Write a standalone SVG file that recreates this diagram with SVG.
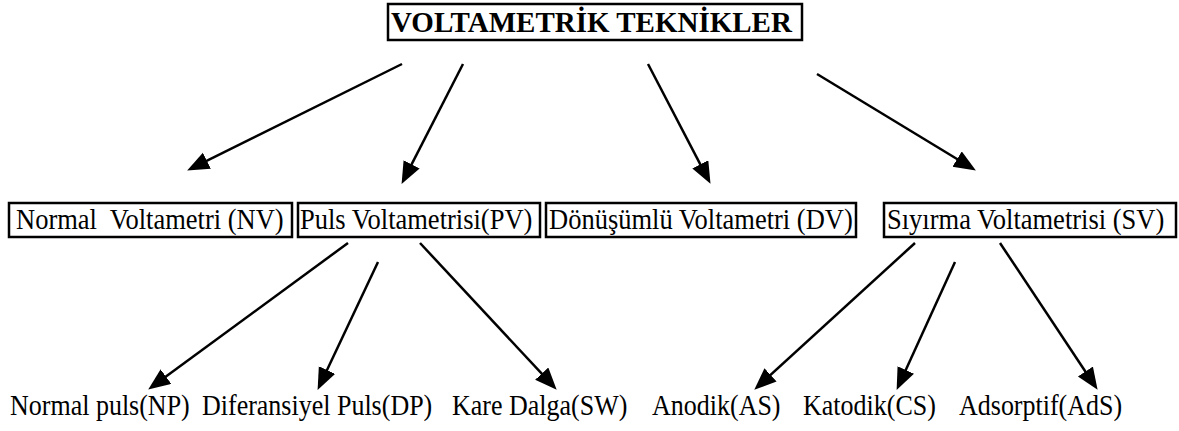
<svg xmlns="http://www.w3.org/2000/svg" width="1179" height="431" viewBox="0 0 1179 431">
<style>
.box{fill:#fff;stroke:#000;stroke-width:2.5}
.t{font-family:"Liberation Serif","Times New Roman",serif;font-size:26.5px;fill:#000;white-space:pre}
.b{font-family:"Liberation Serif","Times New Roman",serif;font-size:26px;fill:#000;white-space:pre}
.title{font-family:"Liberation Serif","Times New Roman",serif;font-size:29px;font-weight:bold;fill:#000}
.c{stroke:#000;stroke-width:2.5;fill:none;marker-end:url(#ah)}
</style>
<defs>
<marker id="ah" markerUnits="userSpaceOnUse" markerWidth="24" markerHeight="20" refX="11" refY="9" orient="auto" viewBox="0 0 24 20">
<path d="M0,0 L22,9 L0,18 z" fill="#000"/>
</marker>
</defs>
<rect width="1179" height="431" fill="#fff"/>
<g id="title">
<rect class="box" x="388" y="4" width="414" height="36"/>
<text class="title" transform="translate(391,32) scale(1,1.04)">VOLTAMETRİK TEKNİKLER</text>
</g>
<g id="nv">
<rect class="box" x="9" y="203" width="283" height="34"/>
<text class="t" transform="translate(16,229) scale(1,1.08)" xml:space="preserve">Normal  Voltametri (NV)</text>
</g>
<g id="pv">
<rect class="box" x="298" y="203" width="242" height="34"/>
<text class="t" transform="translate(300,229) scale(1,1.08)">Puls Voltametrisi(PV)</text>
</g>
<g id="dv">
<rect class="box" x="546" y="203" width="310" height="34"/>
<text class="t" transform="translate(549,229) scale(1,1.08)">Dönüşümlü Voltametri (DV)</text>
</g>
<g id="sv">
<rect class="box" x="884" y="203" width="292" height="34"/>
<text class="t" transform="translate(887,229) scale(1,1.08)">Sıyırma Voltametrisi (SV)</text>
</g>
<g id="np"><text class="b" transform="translate(10,415) scale(1,1.12)">Normal puls(NP)</text></g>
<g id="dp"><text class="b" transform="translate(202,415) scale(1,1.12)">Diferansiyel Puls(DP)</text></g>
<g id="sw"><text class="b" transform="translate(452,415) scale(1,1.12)">Kare Dalga(SW)</text></g>
<g id="as"><text class="b" transform="translate(652,415) scale(1,1.12)">Anodik(AS)</text></g>
<g id="cs"><text class="b" transform="translate(803,415) scale(1,1.12)">Katodik(CS)</text></g>
<g id="ads"><text class="b" transform="translate(959,415) scale(1,1.12)">Adsorptif(AdS)</text></g>
<g id="connectors">
<line class="c" x1="402" y1="64" x2="197" y2="165.6"/>
<line class="c" x1="463" y1="64" x2="406.6" y2="174.1"/>
<line class="c" x1="648" y1="64" x2="705.4" y2="174.1"/>
<line class="c" x1="817" y1="74" x2="966.5" y2="164.8"/>
<line class="c" x1="348" y1="243" x2="157.1" y2="383.1"/>
<line class="c" x1="378" y1="262" x2="322.3" y2="380"/>
<line class="c" x1="420" y1="243" x2="549.2" y2="381.7"/>
<line class="c" x1="915" y1="243" x2="762.4" y2="382.3"/>
<line class="c" x1="955" y1="262" x2="901.2" y2="379.9"/>
<line class="c" x1="1000" y1="243" x2="1091.5" y2="380.7"/>
</g>
</svg>
